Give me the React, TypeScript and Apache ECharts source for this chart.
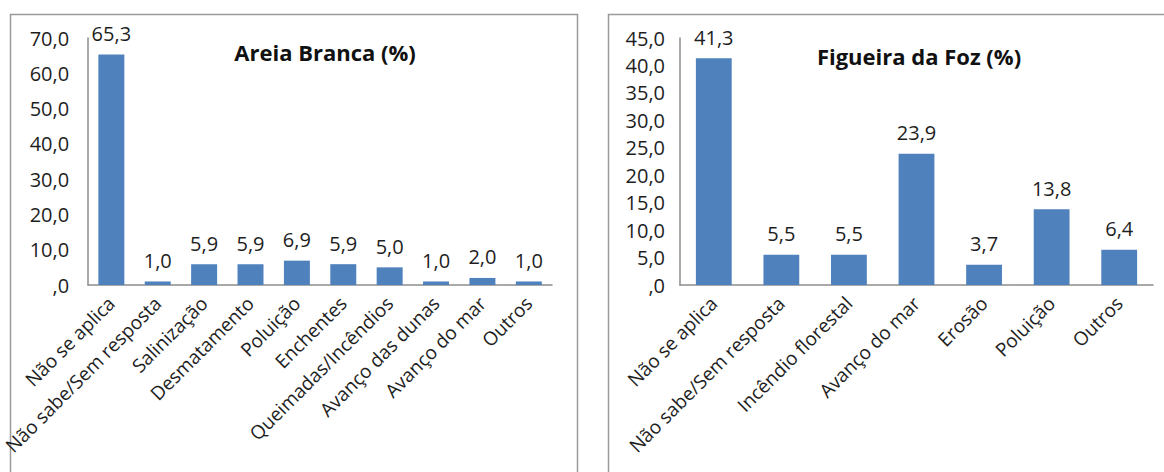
import React, { useEffect, useRef } from "react";
import * as echarts from "echarts";

const leftTitle = "Areia Branca (%)";
const leftCategories = [
  "Não se aplica",
  "Não sabe/Sem resposta",
  "Salinização",
  "Desmatamento",
  "Poluição",
  "Enchentes",
  "Queimadas/Incêndios",
  "Avanço das dunas",
  "Avanço do mar",
  "Outros",
];
const leftValues = [65.3, 1.0, 5.9, 5.9, 6.9, 5.9, 5.0, 1.0, 2.0, 1.0];

const rightTitle = "Figueira da Foz (%)";
const rightCategories = [
  "Não se aplica",
  "Não sabe/Sem resposta",
  "Incêndio florestal",
  "Avanço do mar",
  "Erosão",
  "Poluição",
  "Outros",
];
const rightValues = [41.3, 5.5, 5.5, 23.9, 3.7, 13.8, 6.4];

const leftMax = 70;
const leftStep = 10;
const rightMax = 45;
const rightStep = 5;

const FONT = "'Open Sans', sans-serif";
const TEXT = "#1e1e1e";
const BAR = "#4F81BD";
const AXIS = "#8c8c8c";

const fmt = (v: number) => (v === 0 ? ",0" : v.toFixed(1).replace(".", ","));

export default function App() {
  const ref = useRef<HTMLDivElement>(null);
  useEffect(() => {
    if (!ref.current) return;
    const chart = echarts.init(ref.current, undefined, { renderer: "svg" });
    const xAxis = (idx: number, cats: string[]) => ({
      type: "category",
      gridIndex: idx,
      data: cats,
      axisLine: { show: true, lineStyle: { color: AXIS, width: 1.5 } },
      axisTick: { show: false },
      axisLabel: {
        interval: 0,
        rotate: 45,
        margin: 15,
        color: TEXT,
        fontFamily: FONT,
        fontSize: 19,
      },
    });
    const yAxis = (idx: number, max: number, step: number, gap: number) => ({
      type: "value",
      gridIndex: idx,
      min: 0,
      max,
      interval: step,
      splitLine: { show: false },
      axisLine: { show: true, lineStyle: { color: AXIS, width: 1.5 } },
      axisTick: { show: false },
      axisLabel: {
        margin: gap,
        color: TEXT,
        fontFamily: FONT,
        fontSize: 20,
        formatter: (v: number) => fmt(v),
      },
    });
    const series = (idx: number, vals: number[], width: string) => ({
      type: "bar",
      xAxisIndex: idx,
      yAxisIndex: idx,
      data: vals,
      barWidth: width,
      itemStyle: { color: BAR },
      label: {
        show: true,
        position: "top",
        distance: 11,
        color: TEXT,
        fontFamily: FONT,
        fontSize: 20,
        formatter: (p: any) => fmt(p.value),
      },
    });
    chart.setOption({
      animation: false,
      backgroundColor: "#ffffff",
      title: [
        {
          text: leftTitle,
          left: 320,
          top: 36,
          textAlign: "center",
          textStyle: { fontFamily: FONT, fontWeight: "bold", fontSize: 22, color: "#111" },
        },
        {
          text: rightTitle,
          left: 914,
          top: 40,
          textAlign: "center",
          textStyle: { fontFamily: FONT, fontWeight: "bold", fontSize: 22, color: "#111" },
        },
      ],
      graphic: [
        {
          type: "polyline",
          shape: { points: [[10.5, 480], [10.5, 14.5], [577.5, 14.5], [577.5, 480]] },
          style: { stroke: "#9a9a9a", lineWidth: 1.5, fill: "none" },
        },
        {
          type: "polyline",
          shape: { points: [[608.5, 480], [608.5, 14.5], [1170, 14.5]] },
          style: { stroke: "#9a9a9a", lineWidth: 1.5, fill: "none" },
        },
      ],
      grid: [
        { left: 87, top: 38, width: 465, height: 247, containLabel: false },
        { left: 680, top: 38, width: 473, height: 247, containLabel: false },
      ],
      xAxis: [xAxis(0, leftCategories), xAxis(1, rightCategories)],
      yAxis: [yAxis(0, leftMax, leftStep, 19), yAxis(1, rightMax, rightStep, 15)],
      series: [series(0, leftValues, "56%"), series(1, rightValues, "53%")],
    });
    return () => chart.dispose();
  }, []);
  return (
    <div
      ref={ref}
      style={{ position: "fixed", left: 0, top: 0, width: 1164, height: 472 }}
    />
  );
}
